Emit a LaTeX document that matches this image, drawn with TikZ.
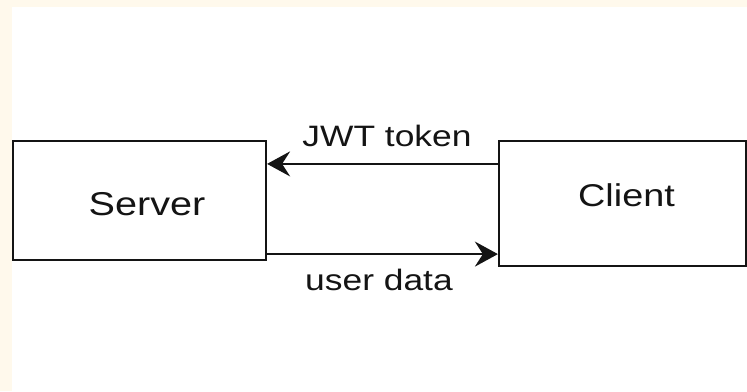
\documentclass[tikz,border=0pt]{standalone}
\usepackage{fontspec}
\setmainfont{Liberation Sans}
\usetikzlibrary{arrows.meta}
\definecolor{cream}{RGB}{255,249,236}
\definecolor{ink}{RGB}{20,20,20}
\tikzset{
  box/.style={draw=ink, line width=2.2pt, fill=white, inner sep=0pt},
  arr/.style={draw=ink, line width=2.2pt, -{Stealth[length=23pt, width=25pt, inset=8pt]}},
  lbl/.style={inner sep=0pt, anchor=base, text=ink, font=\fontsize{29.5}{34}\selectfont},
}
\newcommand{\wide}[1]{\scalebox{1.2}[1]{#1}}
\begin{document}
\begin{tikzpicture}[x=1pt, y=-1pt]
  \fill[cream] (0,0) rectangle (747,391);
  \fill[white] (12,7) rectangle (747,391);
  \useasboundingbox (0,0) rectangle (747,391);
  \node[box, minimum width=253pt, minimum height=119pt] (server) at (139.5,200.5) {};
  \node[box, minimum width=247pt, minimum height=125pt] (client) at (622.5,203.5) {};
  \node[lbl, font=\fontsize{33}{38}\selectfont] (servertext) at (147,215) {\wide{Server}};
  \node[lbl, font=\fontsize{31.5}{36}\selectfont] (clienttext) at (626.5,206) {\wide{Client}};
  \draw[arr] ([yshift=-24pt]client.north west) -- ([yshift=-24pt]server.north east);
  \draw[arr] ([yshift=7pt]server.south east) -- ([yshift=13pt]client.south west);
  \node[lbl] (jwt) at (387,146) {\wide{JWT token}};
  \node[lbl] (udata) at (379,290) {\wide{user data}};
\end{tikzpicture}
\end{document}
